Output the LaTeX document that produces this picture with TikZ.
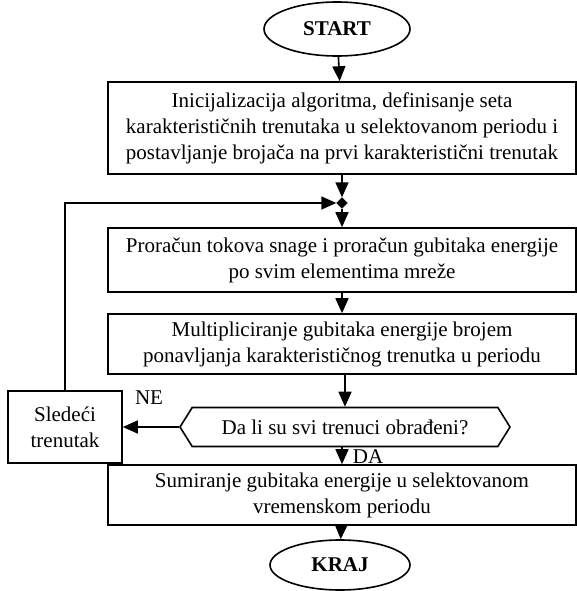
\documentclass[tikz,border=0pt]{standalone}
\usepackage{fontspec}
\setmainfont{Liberation Serif}
\usetikzlibrary{shapes.geometric,shapes.symbols,arrows.meta}

\begin{document}
\begin{tikzpicture}[x=1pt,y=1pt,yscale=-1,xscale=1,
        every node/.style={font=\fontsize{21}{26}\selectfont},
        flow/.style={line width=1.6pt,-{Triangle[length=15pt,width=13pt]}},
        procbox/.style={draw,line width=1.6pt,minimum width=468pt,align=center,inner sep=0pt},
        terminal/.style={draw,ellipse,line width=1.6pt,inner sep=0pt,font=\fontsize{21}{24}\selectfont\bfseries},
        decision/.style={draw,signal,signal to=west and east,signal pointer angle=116,line width=1.6pt,minimum width=330pt,minimum height=39pt,inner sep=0pt}]
        \useasboundingbox (0,0) rectangle (577,591);
        % terminals
        \node (start) [terminal,minimum width=146pt,minimum height=54pt] at (337,29) {START};
        \node (kraj) [terminal,minimum width=140pt,minimum height=50pt] at (340,565) {KRAJ};
        % process boxes
        \node (init) [procbox,minimum height=92pt] at (342,128) {Inicijalizacija algoritma, definisanje seta\\karakterističnih trenutaka u selektovanom periodu i\\postavljanje brojača na prvi karakteristični trenutak};
        \node (tok) [procbox,minimum height=64pt] at (342,260) {Proračun tokova snage i proračun gubitaka energije\\po svim elementima mreže};
        \node (mult) [procbox,minimum height=60pt] at (342,344) {Multipliciranje gubitaka energije brojem\\ponavljanja karakterističnog trenutka u periodu};
        \node (sum) [procbox,minimum height=60pt] at (342,495) {Sumiranje gubitaka energije u selektovanom\\vremenskom periodu};
        \node (dec) [decision] at (345,427) {Da li su svi trenuci obrađeni?};
        \node (sled) [draw,line width=1.6pt,minimum width=114pt,minimum height=72pt,align=center,inner sep=0pt] at (65,427) {Sledeći\\trenutak};
        % junction
        \node (junc) [draw,diamond,fill,inner sep=0pt,minimum size=11pt] at (342,203) {};
        \coordinate (corner) at (sled.north |- junc);
        % connectors
        \draw [flow] (start) -- (init);
        \draw [flow] (init) -- (junc);
        \draw [flow] (junc) -- (tok);
        \draw [flow] (tok) -- (mult);
        \draw [flow] (mult.south -| dec.north) -- (dec.north);
        \draw [flow] (dec.west) -- (sled.east);
        \draw [flow] (sled.north) -- (corner) -- (junc.west);
        \draw [flow] (dec.south -| sum.north) -- (sum.north);
        \draw [flow] (sum) -- (kraj);
        % labels
        \node (ne) at (149,398) {NE};
        \node (da) at (368,457) {DA};
\end{tikzpicture}
\end{document}
